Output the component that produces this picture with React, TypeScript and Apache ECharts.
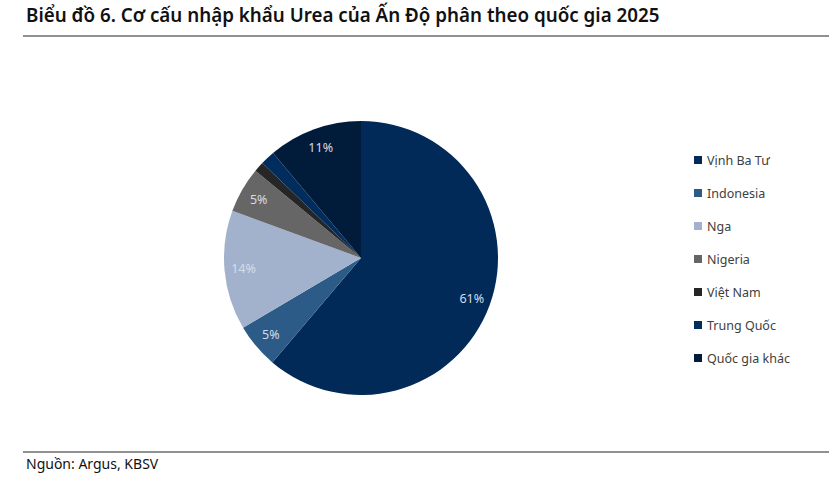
import React, { useEffect, useRef } from "react";
import * as echarts from "echarts";

const categories = ["Vịnh Ba Tư", "Indonesia", "Nga", "Nigeria", "Việt Nam", "Trung Quốc", "Quốc gia khác"];
const shares = [61.2, 5.3, 14.1, 5.4, 1.2, 1.7, 11.1];
const colors = ["#022A58", "#2C5B87", "#A2B2CC", "#666666", "#262626", "#012D5E", "#011B3B"];
const titleText = "Biểu đồ 6. Cơ cấu nhập khẩu Urea của Ấn Độ phân theo quốc gia 2025";
const sourceText = "Nguồn: Argus, KBSV";

export default function App() {
  const ref = useRef<HTMLDivElement>(null);
  useEffect(() => {
    if (!ref.current) return;
    const chart = echarts.init(ref.current, null, { renderer: "svg" });
    const data = categories.map((c, i) => ({ name: c, value: shares[i], itemStyle: { color: colors[i] } }));
    chart.setOption({
      animation: false,
      graphic: [
        {
          type: "text",
          left: 26,
          top: 5,
          style: { text: titleText, font: "600 18.8px 'Noto Sans'", fill: "#111" },
        },
        { type: "line", shape: { x1: 23, y1: 36, x2: 829, y2: 36 }, style: { stroke: "#222", lineWidth: 1 } },
        { type: "line", shape: { x1: 23, y1: 452, x2: 829, y2: 452 }, style: { stroke: "#222", lineWidth: 1 } },
        {
          type: "text",
          left: 26,
          top: 456,
          style: { text: sourceText, font: "14px 'Noto Sans'", fill: "#111" },
        },
      ],
      legend: {
        orient: "vertical",
        left: 689,
        top: 148,
        icon: "rect",
        itemWidth: 8,
        itemHeight: 8,
        itemGap: 19,
        data: categories,
        selectedMode: false,
        textStyle: { fontFamily: "Noto Sans", fontSize: 12.5, color: "#404040", lineHeight: 14 },
      },
      series: [
        {
          type: "pie",
          center: [361, 258],
          radius: [0, 137],
          startAngle: 90,
          clockwise: true,
          label: { show: false },
          labelLine: { show: false },
          silent: true,
          data,
        },
        {
          type: "pie",
          center: [361, 258],
          radius: [95, 135],
          startAngle: 90,
          clockwise: true,
          silent: true,
          itemStyle: { color: "transparent" },
          label: {
            show: true,
            position: "inside",
            fontFamily: "Noto Sans",
            fontSize: 12.5,
            color: "#D6DCE8",
            formatter: (p: any) => (p.value >= 4 ? Math.round(p.value) + "%" : ""),
          },
          labelLine: { show: false },
          data: categories.map((c, i) => ({ name: c, value: shares[i] })),
        },
      ],
    });
    return () => chart.dispose();
  }, []);
  return <div ref={ref} style={{ width: 837, height: 485, position: "absolute", left: 0, top: 0, background: "#fff" }} />;
}
